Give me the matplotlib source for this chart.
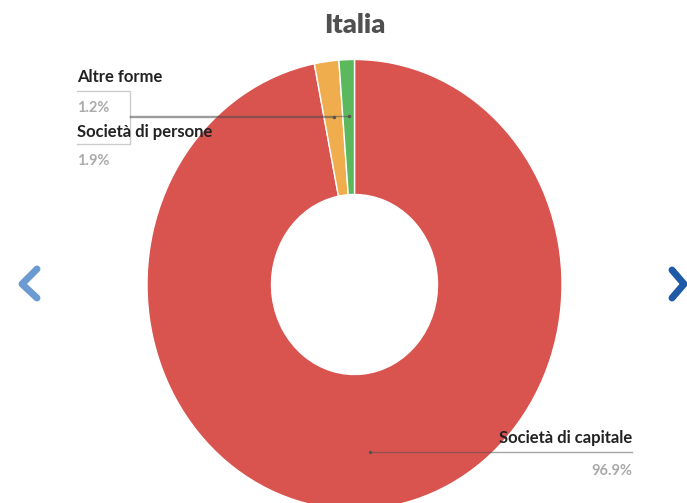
"""Donut chart: legal forms of companies, Italia."""

import matplotlib
matplotlib.use("Agg")
import matplotlib.pyplot as plt
import numpy as np

# Data (clockwise from the top)
labels = ["Società di capitale", "Società di persone", "Altre forme"]
values = [96.9, 1.9, 1.2]
colors = ["#D9534F", "#F0AD4E", "#5CB85C"]
title = "Italia"

W, H = 687, 503
FONT = "Lato"

fig = plt.figure(figsize=(W / 100, H / 100), dpi=100)

# pie axes, slightly taller than wide like the reference
cx, cy, rx, ry = 354.5, 284.5, 207.5, 225.0
ax = fig.add_axes([(cx - rx) / W, (H - cy - ry) / H, 2 * rx / W, 2 * ry / H])
wedges, _ = ax.pie(
    values, colors=colors, startangle=90, counterclock=False, radius=1.0,
    wedgeprops=dict(width=0.6, edgecolor="white", linewidth=1),
)
ax.set_xlim(-1, 1)
ax.set_ylim(-1, 1)
ax.set_aspect("auto")
ax.axis("off")

# overlay in pixel coordinates (origin top-left)
ov = fig.add_axes([0, 0, 1, 1], zorder=5)
ov.set_xlim(0, W)
ov.set_ylim(H, 0)
ov.axis("off")
ov.patch.set_alpha(0)


def anchor(wedge, r=0.75):
    ang = np.deg2rad((wedge.theta1 + wedge.theta2) / 2)
    disp = ax.transData.transform((r * np.cos(ang), r * np.sin(ang)))
    return ov.transData.inverted().transform(disp)


fig.canvas.draw()
a_cap = anchor(wedges[0])
a_pers = anchor(wedges[1])
a_altre = anchor(wedges[2])

box_c = "#cccccc"
lead_c = (0.3, 0.3, 0.3, 0.5)

# left labels share a bracket that joins the leader line
ov.plot([77, 130, 130], [91, 91, a_altre[1]], color=box_c, lw=1)
ov.plot([77, 130, 130], [144, 144, a_pers[1]], color=box_c, lw=1)
ov.plot([130, a_altre[0]], [a_altre[1], a_altre[1]], color=lead_c, lw=1)
ov.plot([130, a_pers[0]], [a_pers[1], a_pers[1]], color=lead_c, lw=1)
ov.plot([a_altre[0], a_pers[0]], [a_altre[1], a_pers[1]], "o", ms=1.5, color="#555555")

# right label underline
ov.plot([a_cap[0], 632], [a_cap[1], a_cap[1]], color=lead_c, lw=1)
ov.plot([a_cap[0]], [a_cap[1]], "o", ms=1.5, color="#555555")

lab_kw = dict(fontsize=12, fontweight="bold", color="#222222", family=FONT, va="baseline")
pct_kw = dict(fontsize=10.5, fontweight="bold", color="#aaaaaa", family=FONT, va="baseline")

ov.text(77, 82, labels[2], ha="left", **lab_kw)
ov.text(77, 112, f"{values[2]}%", ha="left", **pct_kw)
ov.text(77, 137, labels[1], ha="left", **lab_kw)
ov.text(77, 165, f"{values[1]}%", ha="left", **pct_kw)
ov.text(632, 443, labels[0], ha="right", **lab_kw)
ov.text(632, 475, f"{values[0]}%", ha="right", **pct_kw)

ov.text(cx, 33, title, ha="center", va="baseline", fontsize=19.5,
        fontweight="heavy", color="#505050", family=FONT)

# navigation chevrons
ov.plot([37, 22, 37], [269, 284, 298], color="#6B9BD1", lw=5,
        solid_capstyle="round", solid_joinstyle="round")
ov.plot([672, 684, 672], [270, 284, 298], color="#1F5AA6", lw=5,
        solid_capstyle="round", solid_joinstyle="round")

fig.savefig("out.png", dpi=100)
plt.close(fig)
